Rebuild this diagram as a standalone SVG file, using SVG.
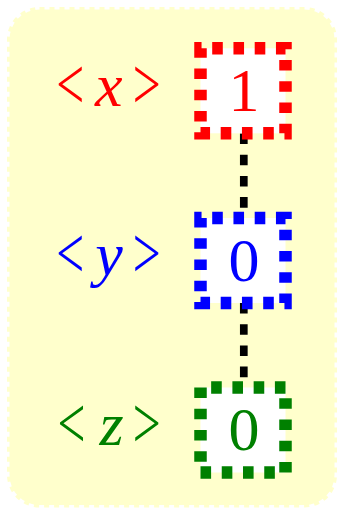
<svg xmlns="http://www.w3.org/2000/svg" width="339" height="512" viewBox="0 0 339 512">
<style>
.bg{fill:#ffffcc;stroke:#ffffcc;stroke-width:5;stroke-dasharray:5 5}
.box{fill:#ffffff;stroke-width:12.5;stroke-dasharray:10.6 10.65;stroke-dashoffset:9.55}
.edge{stroke:#000000;stroke-width:7.7;stroke-dasharray:10.6 10.6;fill:none}
.t{font-family:'Liberation Serif',serif;font-size:62px;text-anchor:middle}
.br{font-family:'Liberation Serif',serif;font-size:75px;text-anchor:middle}
.it{font-style:italic}
</style>
<rect class="bg" x="9.5" y="9.5" width="325" height="495.5" rx="30" ry="30"/>
<g id="connectors">
<line class="edge" x1="243.8" y1="133.5" x2="243.8" y2="218"/>
<line class="edge" x1="243.8" y1="303" x2="243.8" y2="387.5"/>
</g>
<g id="node-x" fill="#ff0000">
<rect class="box" x="200.5" y="48.3" width="85" height="85" stroke="#ff0000"/>
<text class="br" transform="translate(70.3,108.5) scale(0.66,1)">&lt;</text>
<text class="t it" x="108.7" y="105.5">x</text>
<text class="br" transform="translate(146.7,108.5) scale(0.66,1)">&gt;</text>
<text class="t" x="244" y="111.3">1</text>
</g>
<g id="node-y" fill="#0000ff">
<rect class="box" x="200.5" y="218" width="85" height="85" stroke="#0000ff"/>
<text class="br" transform="translate(70.3,278.2) scale(0.66,1)">&lt;</text>
<text class="t it" x="109" y="275.2">y</text>
<text class="br" transform="translate(146.7,278.2) scale(0.66,1)">&gt;</text>
<text class="t" x="244" y="281">0</text>
</g>
<g id="node-z" fill="#008000">
<rect class="box" x="200.5" y="387.5" width="85" height="85" stroke="#008000" style="stroke-dashoffset:10.6"/>
<text class="br" transform="translate(71.5,447.5) scale(0.66,1)">&lt;</text>
<text class="t it" x="111.5" y="444.5">z</text>
<text class="br" transform="translate(146.7,447.5) scale(0.66,1)">&gt;</text>
<text class="t" x="244" y="450.3">0</text>
</g>
</svg>
